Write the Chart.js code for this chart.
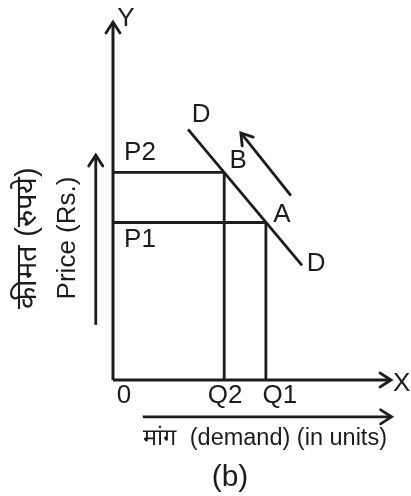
<!DOCTYPE html>
<html>
<head>
<meta charset="utf-8">
<script src="https://cdn.jsdelivr.net/npm/chart.js@4"></script>
<style>
  body { margin: 0; background: #fff; }
  canvas { display: block; }
</style>
</head>
<body>
<canvas id="demandChart" width="411" height="496"></canvas>
<script>
// Quantities and prices (axis units 0-100)
const qLabels = ['Q2', 'Q1'];
const quantities = [40, 55];
const pLabels = ['P2', 'P1'];
const prices = [58, 44];
const pointLabels = ['B', 'A'];

// Demand curve D-D
const demandX = [27, 68];
const demandY = [70, 32];

// Movement arrow along the curve (A -> B)
const moveX = [64, 46];
const moveY = [51.5, 69];

// Axis-title arrows
const priceArrowX = [-6.2, -6.2];
const priceArrowY = [15.4, 62.8];
const demandArrowX = [10.7, 100.2];
const demandArrowY = [-10.3, -10.3];

const ink = '#1c1c1c';

function seg(xs, ys, extra) {
    return Object.assign({
        data: xs.map((x, i) => ({ x: x, y: ys[i] })),
        showLine: true,
        borderColor: ink,
        borderWidth: 2.8,
        pointRadius: 0,
        clip: false
    }, extra || {});
}

const datasets = [
    seg([0, 0], [0, 100], { arrow: true, borderWidth: 3 }),   // Y axis
    seg([0, 100], [0, 0], { arrow: true, borderWidth: 3 }),   // X axis
    seg([0, quantities[0]], [prices[0], prices[0]]),
    seg([0, quantities[1]], [prices[1], prices[1]]),
    seg([quantities[0], quantities[0]], [0, prices[0]]),
    seg([quantities[1], quantities[1]], [0, prices[1]]),
    seg(demandX, demandY),
    seg(moveX, moveY, { arrow: true }),
    seg(priceArrowX, priceArrowY, { arrow: true }),
    seg(demandArrowX, demandArrowY, { arrow: true })
];

// arrowheads and text
const drawExtras = {
    id: 'drawExtras',
    afterDatasetsDraw(chart) {
        const c = chart.ctx;
        const sx = chart.scales.x, sy = chart.scales.y;
        const px = v => sx.getPixelForValue(v);
        const py = v => sy.getPixelForValue(v);

        c.save();
        c.strokeStyle = ink;
        c.lineWidth = 2.8;
        c.lineCap = 'round';
        chart.data.datasets.forEach(ds => {
            if (!ds.arrow) return;
            const n = ds.data.length;
            const a = ds.data[n - 2], b = ds.data[n - 1];
            const x1 = px(a.x), y1 = py(a.y), x2 = px(b.x), y2 = py(b.y);
            const ang = Math.atan2(y2 - y1, x2 - x1);
            const len = 13, spread = Math.PI / 5.5;
            c.beginPath();
            c.moveTo(x2 - len * Math.cos(ang - spread), y2 - len * Math.sin(ang - spread));
            c.lineTo(x2, y2);
            c.lineTo(x2 - len * Math.cos(ang + spread), y2 - len * Math.sin(ang + spread));
            c.stroke();
        });

        c.fillStyle = ink;
        c.textAlign = 'center';
        c.textBaseline = 'middle';
        c.font = '26px "Liberation Sans", Arial, sans-serif';
        const put = (t, x, y) => c.fillText(t, x, y);

        put('Y', px(0) + 13, py(100) - 3);
        c.textAlign = 'left';
        put('X', px(100) + 2, py(0) + 4);
        c.textAlign = 'center';
        put('0', px(0) + 11, py(0) + 16);
        qLabels.forEach((t, i) => put(t, px(quantities[i]) + (i ? 14 : 1), py(0) + 16));
        pLabels.forEach((t, i) => put(t, px(0) + 27, py(prices[i]) + (i ? 17 : -20)));
        put(pointLabels[0], px(quantities[0]) + 14, py(prices[0]) - 12);
        put(pointLabels[1], px(quantities[1]) + 16, py(prices[1]) - 8);
        put('D', px(demandX[0]) + 13, py(demandY[0]) - 15);
        put('D', px(demandX[1]) + 14, py(demandY[1]) - 2);

        // axis titles
        c.font = '26px "Liberation Sans", Arial, sans-serif';
        c.save();
        c.translate(68, 238);
        c.rotate(-Math.PI / 2);
        c.fillText('Price (Rs.)', 0, 0);
        c.restore();
        c.font = '29px "Liberation Sans", Arial, sans-serif';
        c.save();
        c.translate(28, 238);
        c.rotate(-Math.PI / 2);
        c.fillText('कीमत (रुपये)', 0, 0);
        c.restore();

        c.font = '23.5px "Liberation Sans", Arial, sans-serif';
        c.textAlign = 'left';
        const ty = py(demandArrowY[0]) + 22;
        c.fillText('मांग', px(demandArrowX[0]), ty);
        c.fillText('(demand) (in units)', px(demandArrowX[0]) + 47, ty);
        c.textAlign = 'center';
        c.font = '30px "Liberation Sans", Arial, sans-serif';
        c.fillText('(b)', 230, 478);
        c.restore();
    }
};

new Chart(document.getElementById('demandChart').getContext('2d'), {
    type: 'scatter',
    data: { datasets: datasets },
    options: {
        responsive: false,
        animation: false,
        layout: { padding: { left: 113, top: 22, right: 20, bottom: 116 } },
        scales: {
            x: { type: 'linear', min: 0, max: 100, display: false },
            y: { type: 'linear', min: 0, max: 100, display: false }
        },
        plugins: {
            legend: { display: false },
            tooltip: { enabled: false }
        }
    },
    plugins: [drawExtras]
});
</script>
</body>
</html>
